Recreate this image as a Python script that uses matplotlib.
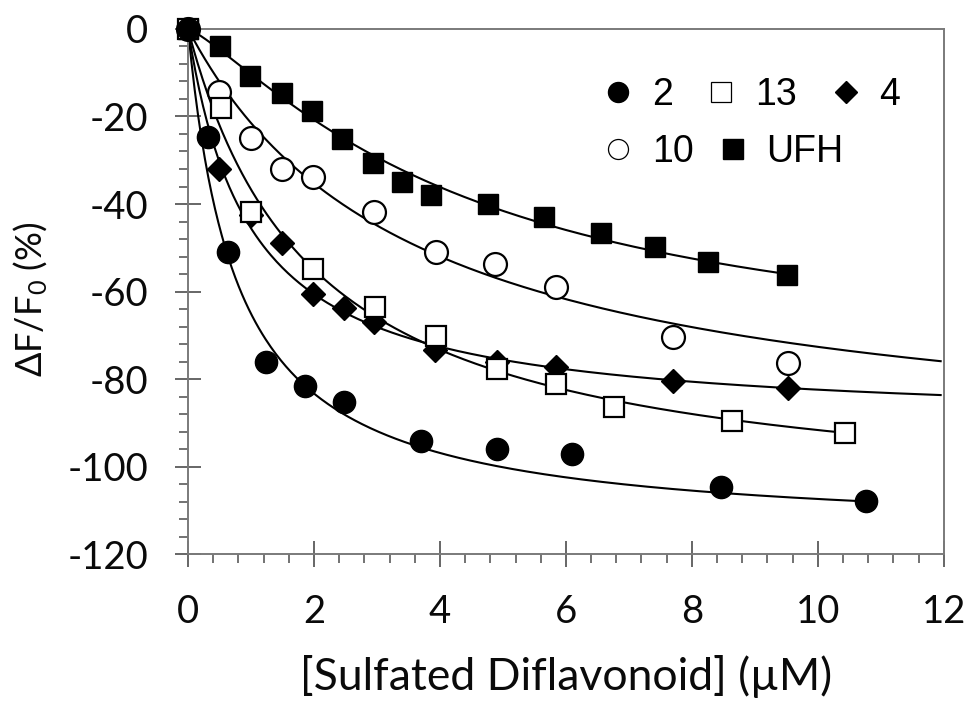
import numpy as np
import matplotlib
matplotlib.use("Agg")
import matplotlib.pyplot as plt
from matplotlib.lines import Line2D
from matplotlib.ticker import MultipleLocator

# Datos: [Sulfated Diflavonoid] (uM) frente a dF/F0 (%)
x_2 = [0, 0.31, 0.63, 1.24, 1.86, 2.47, 3.70, 4.90, 6.10, 8.46, 10.77]
y_2 = [0, -24.8, -51.0, -76.0, -81.6, -85.2, -94.2, -96.1, -97.2, -104.6, -107.9]

x_13 = [0, 0.52, 1.0, 1.99, 2.97, 3.93, 4.90, 5.84, 6.77, 8.63, 10.43]
y_13 = [0, -18.1, -41.8, -54.9, -63.6, -70.2, -77.8, -81.2, -86.3, -89.7, -92.4]

x_4 = [0, 0.50, 1.0, 1.50, 1.98, 2.47, 2.95, 3.92, 4.90, 5.84, 7.70, 9.53]
y_4 = [0, -32.0, -42.5, -49.0, -60.6, -63.8, -66.9, -73.4, -76.0, -77.3, -80.5, -82.1]

x_10 = [0, 0.50, 1.0, 1.50, 1.98, 2.96, 3.93, 4.88, 5.84, 7.70, 9.53]
y_10 = [0, -14.5, -25.0, -32.0, -33.9, -41.9, -51.0, -53.6, -58.9, -70.5, -76.4]

x_ufh = [0, 0.51, 0.99, 1.49, 1.97, 2.45, 2.93, 3.40, 3.86, 4.77, 5.66, 6.55, 7.41, 8.26, 9.51]
y_ufh = [0, -3.8, -10.7, -14.7, -18.7, -25.2, -30.7, -35.0, -37.9, -40.1, -42.9, -46.7, -49.9, -53.3, -56.2]

# Parametros de ajuste (Fmax, Kd, n, x final de la curva) estimados de la figura
fit_2 = (115.8, 0.78, 1.0, 10.7)
fit_13 = (110.0, 2.0, 1.0, 10.4)
fit_4 = (90.6, 0.99, 1.0, 11.95)
fit_10 = (98.8, 3.6, 1.0, 11.95)
fit_ufh = (78.0, 4.5, 1.25, 9.45)

x_ticks = [0, 2, 4, 6, 8, 10, 12]
y_ticks = [0, -20, -40, -60, -80, -100, -120]

plt.rcParams["font.family"] = ["Lato", "DejaVu Sans"]
plt.rcParams["mathtext.fontset"] = "custom"
plt.rcParams["mathtext.rm"] = "Lato"
plt.rcParams["mathtext.default"] = "regular"
plt.rcParams["axes.unicode_minus"] = False

GRIS = "#7a7a7a"


def curva_ajuste(params):
    fmax, kd, n, xfin = params
    x = np.linspace(0, xfin, 400)
    return x, -fmax * x**n / (kd**n + x**n)


fig = plt.figure(figsize=(9.69, 7.02), dpi=100)
ax = fig.add_axes([0.194, 0.2108, 0.78, 0.7479])

for params in (fit_ufh, fit_10, fit_4, fit_13, fit_2):
    xc, yc = curva_ajuste(params)
    ax.plot(xc, yc, color="black", lw=1.5, zorder=2)

estilo = dict(ls="none", clip_on=False, zorder=3)
ax.plot(x_ufh, y_ufh, marker="s", ms=14.9, mfc="black", mec="black", mew=1.0, **estilo)
ax.plot(x_10, y_10, marker="o", ms=16.5, mfc="white", mec="black", mew=1.6, **estilo)
ax.plot(x_4, y_4, marker="D", ms=12.7, mfc="black", mec="black", mew=1.0, **estilo)
ax.plot(x_13, y_13, marker="s", ms=14.2, mfc="white", mec="black", mew=1.6, **estilo)
ax.plot(x_2, y_2, marker="o", ms=16.0, mfc="black", mec="black", mew=1.0, **estilo)

ax.set_xlim(0, 12)
ax.set_ylim(-120, 0)
ax.set_xticks(x_ticks)
ax.set_yticks(y_ticks)
ax.xaxis.set_minor_locator(MultipleLocator(0.4))
ax.yaxis.set_minor_locator(MultipleLocator(4))

ax.tick_params(which="major", direction="inout", length=18.5, width=1.3,
               color="#5a5a5a", labelsize=27.5, pad=19.5, labelcolor="#0a0a0a")
ax.tick_params(which="minor", direction="out", length=6.8, width=1.2, color="#5a5a5a")
for lado in ("left", "bottom", "top", "right"):
    ax.spines[lado].set_color(GRIS)
    ax.spines[lado].set_linewidth(1.4)

ax.set_xlabel("[Sulfated Diflavonoid] (µM)", fontsize=32, color="#0a0a0a", va="top")
ax.xaxis.set_label_coords(0.5, -0.193)
ax.set_ylabel(r"ΔF/F$_{0}$ (%)", fontsize=26, color="#0a0a0a")
ax.yaxis.set_label_coords(-0.183, 0.485)

# Leyenda en dos filas, como en el original
fila1 = [
    Line2D([], [], ls="none", marker="o", ms=14.4, mfc="black", mec="black", label="2"),
    Line2D([], [], ls="none", marker="s", ms=15.0, mfc="white", mec="black", mew=0.9, label="13"),
    Line2D([], [], ls="none", marker="D", ms=10.7, mfc="black", mec="black", label="4"),
]
fila2 = [
    Line2D([], [], ls="none", marker="o", ms=14.4, mfc="white", mec="black", mew=0.9, label="10"),
    Line2D([], [], ls="none", marker="s", ms=15.0, mfc="black", mec="black", label="UFH"),
]
opciones = dict(frameon=False, borderpad=0, borderaxespad=0, handlelength=0.6,
                handletextpad=0.6, loc="center left",
                prop={"family": "Liberation Sans", "size": 27})
ley1 = ax.legend(handles=fila1, ncol=3, columnspacing=1.0,
                 bbox_to_anchor=(0.554, 0.874), **opciones)
ax.add_artist(ley1)
ax.legend(handles=fila2, ncol=2, columnspacing=0.75,
          bbox_to_anchor=(0.554, 0.7655), **opciones)

fig.savefig("out.png", dpi=100, facecolor="white")
